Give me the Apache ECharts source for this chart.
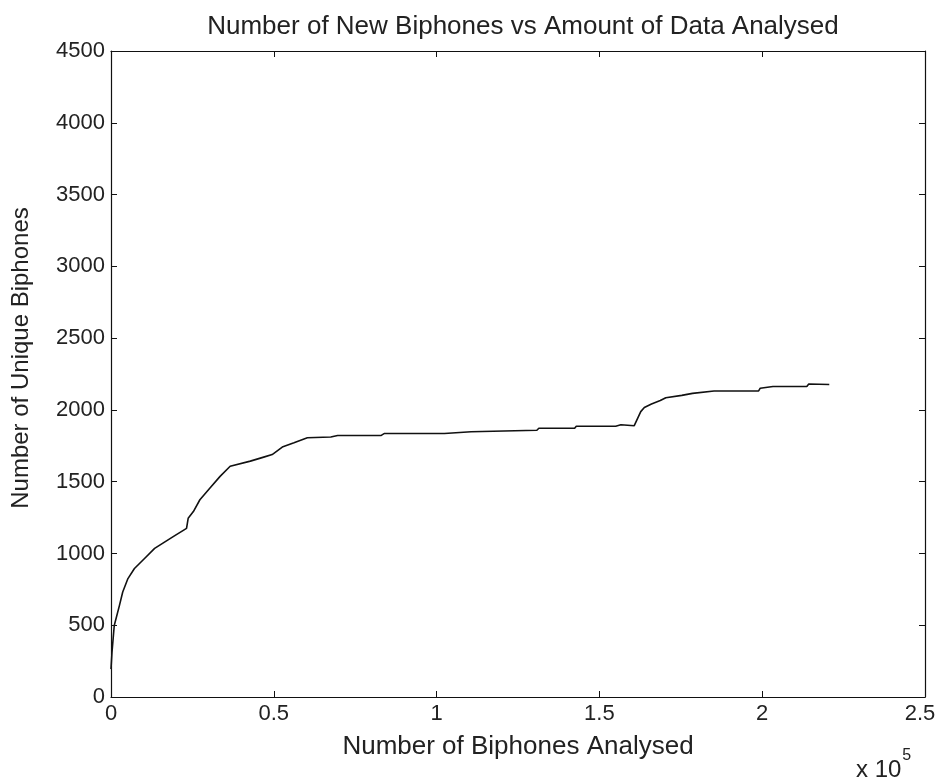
<!DOCTYPE html>
<html>
<head>
<meta charset="utf-8">
<script src="https://cdn.jsdelivr.net/npm/echarts@6/dist/echarts.min.js"></script>
<style>
  html, body { margin: 0; padding: 0; background: #fff; }
  #chart { width: 937px; height: 778px; }
</style>
</head>
<body>
<div id="chart"></div>
<script>
// biphones analysed (x) and unique biphones found (y)
const analysed = [0, 300, 1000, 2600, 3600, 5200, 7200, 10300, 13400, 19100, 23200, 23700, 25300, 27300,
  30400, 33500, 36600, 42800, 46900, 49500, 52600, 56200, 60300, 67500, 69600, 83000, 84000,
  102400, 102900, 110600, 111100, 130800, 131400, 142400, 142900, 155000, 156600, 160700,
  162700, 163800, 166000, 168700, 170400, 175300, 178600, 185200, 198900, 199400, 203300,
  213700, 214300, 220600];
const unique = [194, 311, 498, 638, 731, 825, 895, 965, 1035, 1117, 1175, 1245, 1292, 1374,
  1456, 1537, 1607, 1643, 1671, 1689, 1741, 1771, 1806, 1811, 1822, 1822, 1836,
  1836, 1848, 1848, 1858, 1858, 1872, 1872, 1886, 1886, 1896, 1890,
  1988, 2017, 2041, 2065, 2084, 2101, 2115, 2132, 2132, 2151, 2163,
  2163, 2180, 2177];
const xTicks = ['0', '0.5', '1', '1.5', '2', '2.5'];

const chart = echarts.init(document.getElementById('chart'));
const font = 'Liberation Sans, sans-serif';

const frameAxis = {
  axisLine: {show: true, onZero: false, lineStyle: {color: '#111', width: 1.2}},
  axisTick: {show: true, inside: true, length: 6, lineStyle: {color: '#111'}},
  splitLine: {show: false}
};

chart.setOption({
  animation: false,
  backgroundColor: '#fff',
  title: {
    text: 'Number of New Biphones vs Amount of Data Analysed',
    left: 518, top: 9, textAlign: 'center',
    textStyle: {fontFamily: font, fontSize: 26, fontWeight: 'normal', color: '#222'}
  },
  grid: {left: 111, right: 12, top: 51, bottom: 81, outerBoundsMode: 'none', containLabel: false},
  xAxis: [
    {
      type: 'value', min: 0, max: 250000, interval: 50000,
      ...frameAxis,
      axisLabel: {
        color: '#222', fontFamily: font, fontSize: 22, margin: 6,
        formatter: v => {
          const i = Math.round(v / 50000);
          // last label nudged left a little so it stays on the page
          return i === xTicks.length - 1 ? '{r|' + xTicks[i] + '}' : xTicks[i];
        },
        rich: {r: {fontFamily: font, fontSize: 22, color: '#222', padding: [0, 10, 0, 0]}}
      },
      name: 'Number of Biphones Analysed',
      nameLocation: 'middle', nameGap: 37,
      nameTextStyle: {color: '#222', fontFamily: font, fontSize: 26}
    },
    {type: 'value', position: 'top', min: 0, max: 250000, interval: 50000, ...frameAxis, axisLabel: {show: false}}
  ],
  yAxis: [
    {
      type: 'value', min: 0, max: 4500, interval: 500,
      ...frameAxis,
      axisLabel: {color: '#222', fontFamily: font, fontSize: 22, margin: 6, formatter: v => String(v)},
      name: 'Number of Unique Biphones',
      nameLocation: 'middle', nameGap: 78,
      nameTextStyle: {color: '#222', fontFamily: font, fontSize: 24, padding: [0, 0, 0, 32]}
    },
    {type: 'value', position: 'right', min: 0, max: 4500, interval: 500, ...frameAxis, axisLabel: {show: false}}
  ],
  graphic: [{
    type: 'text', left: 856, top: 748,
    style: {
      text: '{b|x 10}{s|5}',
      rich: {
        b: {fontFamily: font, fontSize: 24, fill: '#222', verticalAlign: 'bottom'},
        s: {fontFamily: font, fontSize: 16, fill: '#222', verticalAlign: 'top', padding: [0, 0, 18, 1]}
      }
    }
  }],
  series: [{
    type: 'line',
    data: analysed.map((x, i) => [x, unique[i]]),
    showSymbol: false,
    lineStyle: {color: '#111', width: 1.6},
    itemStyle: {color: '#111'}
  }]
});
</script>
</body>
</html>
